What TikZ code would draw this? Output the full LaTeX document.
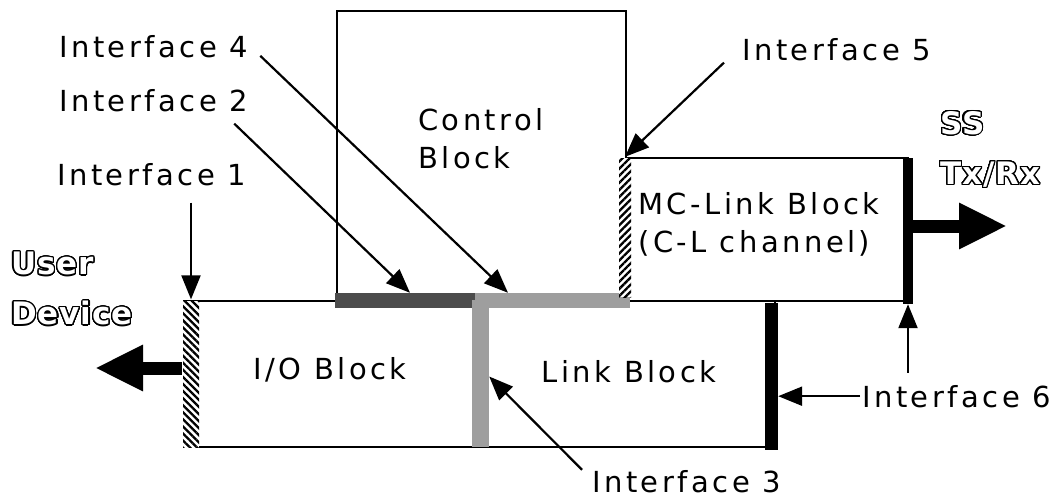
\documentclass[tikz,border=0pt]{standalone}
\usepackage{fontspec}
\setmainfont{DejaVu Sans}
\usepackage{contour}
\usetikzlibrary{arrows.meta,patterns.meta}
\newfontfamily\iffont{DejaVu Sans}[LetterSpace=12]
\newfontfamily\outfont{DejaVu Sans}[LetterSpace=3]
\contourlength{1.2pt}
\contournumber{32}
\newcommand{\outl}[1]{\textcolor{white}{\contour{black}{#1}}}
\tikzset{
blkbox/.style={rectangle,draw,line width=2.4pt,inner sep=0pt},
blktxt/.style={font=\fontsize{29}{38}\selectfont\iffont,align=left,inner sep=0pt},
iflbl/.style={font=\fontsize{29}{34}\selectfont\iffont,inner sep=2pt},
outtxt/.style={font=\fontsize{31}{50}\selectfont\outfont\bfseries,align=left,inner sep=0pt},
ifhatch/.style={rectangle,draw=none,inner sep=0pt,preaction={fill=white},pattern={Lines[angle=#1,distance=5pt,line width=2.3pt]}},
ifdark/.style={rectangle,draw=none,inner sep=0pt,fill=black!70},
iflight/.style={rectangle,draw=none,inner sep=0pt,fill=black!38},
ifsolid/.style={rectangle,draw=none,inner sep=0pt,fill=black},
ifarr/.style={-{Triangle[length=24pt,width=19pt]},line width=2.2pt},
bigarr/.style={-{Triangle[length=48pt,width=43pt]},line width=13pt}
}
\begin{document}
\begin{tikzpicture}[x=1pt,y=-1pt]
\useasboundingbox (0,0) rectangle (1057,498);
% blocks
\node[blkbox,minimum width=289pt,minimum height=290pt] (ctrl) at (481.5,156) {};
\node[blkbox,minimum width=282pt,minimum height=143pt] (mclink) at (767,229.5) {};
\node[blkbox,minimum width=294.5pt,minimum height=146pt] (io) at (333.25,374) {};
\node[blkbox,minimum width=294.5pt,minimum height=146pt] (link) at (627.75,374) {};
% interface bars
\node[ifhatch=-45,minimum width=16pt,minimum height=147pt] (if1bar) at (191,374) {};
\node[ifdark,minimum width=140pt,minimum height=15pt] (if2bar) at (405,300.5) {};
\node[iflight,minimum width=17pt,minimum height=147pt] (if3bar) at (480.5,373.5) {};
\node[iflight,minimum width=155pt,minimum height=15pt] (if4bar) at (552.5,300.5) {};
\node[ifhatch=45,minimum width=12pt,minimum height=139pt] (if5bar) at (625,227.5) {};
\node[ifsolid,minimum width=10pt,minimum height=146pt] (if6a) at (908,231) {};
\node[ifsolid,minimum width=13pt,minimum height=147pt] (if6b) at (771.5,376.5) {};
% block texts
\node[blktxt] (ctrltxt) at (481,139) {Control\\Block};
\node[blktxt] (mctxt) at (759,224) {MC-Link Block\\(C-L channel)};
\node[blktxt] (iotxt) at (330,370) {I/O Block};
\node[blktxt] (linktxt) at (629,372) {Link Block};
\node[outtxt,anchor=north west] (udev) at (11,252) {\outl{User}\\\outl{Device}};
\node[outtxt,anchor=north west] (sstxt) at (940,111) {\outl{SS}\\\outl{Tx/Rx}};
% interface labels
\node[iflbl,anchor=base west] (lif4) at (57,57) {Interface 4};
\node[iflbl,anchor=base west] (lif2) at (57,111) {Interface 2};
\node[iflbl,anchor=base west] (lif1) at (55,185) {Interface 1};
\node[iflbl,anchor=base west] (lif5) at (740,60) {Interface 5};
\node[iflbl,anchor=base west] (lif6) at (860,407) {Interface 6};
\node[iflbl,anchor=base west] (lif3) at (590,492) {Interface 3};
\coordinate (udevarr) at (95,368);
\coordinate (ssarr) at (1007,226);
% arrows
\draw[bigarr] ([yshift=6pt]if1bar.west) -- (udevarr);
\draw[bigarr] ([yshift=5pt]if6a.east) -- (ssarr);
\draw[ifarr] ([yshift=-15pt]lif1.south -| if1bar.north) -- (if1bar.north);
\draw[ifarr] ([xshift=-16pt,yshift=-10pt]lif2.south east) -- ([xshift=5pt]if2bar.north);
\draw[ifarr,shorten <=14pt] (lif4.east) -- ([xshift=-44.5pt]if4bar.north);
\draw[ifarr] ([xshift=-16pt]lif5.south west) -- (if5bar.north);
\draw[ifarr] ([xshift=-8pt,yshift=-2pt]lif3.north west) -- ([yshift=-3pt]if3bar.east);
\draw[ifarr] (lif6.west) -- (lif6.west -| if6b.east);
\draw[ifarr] ([yshift=10pt]lif6.north -| if6a.south) -- (if6a.south);
\end{tikzpicture}
\end{document}
